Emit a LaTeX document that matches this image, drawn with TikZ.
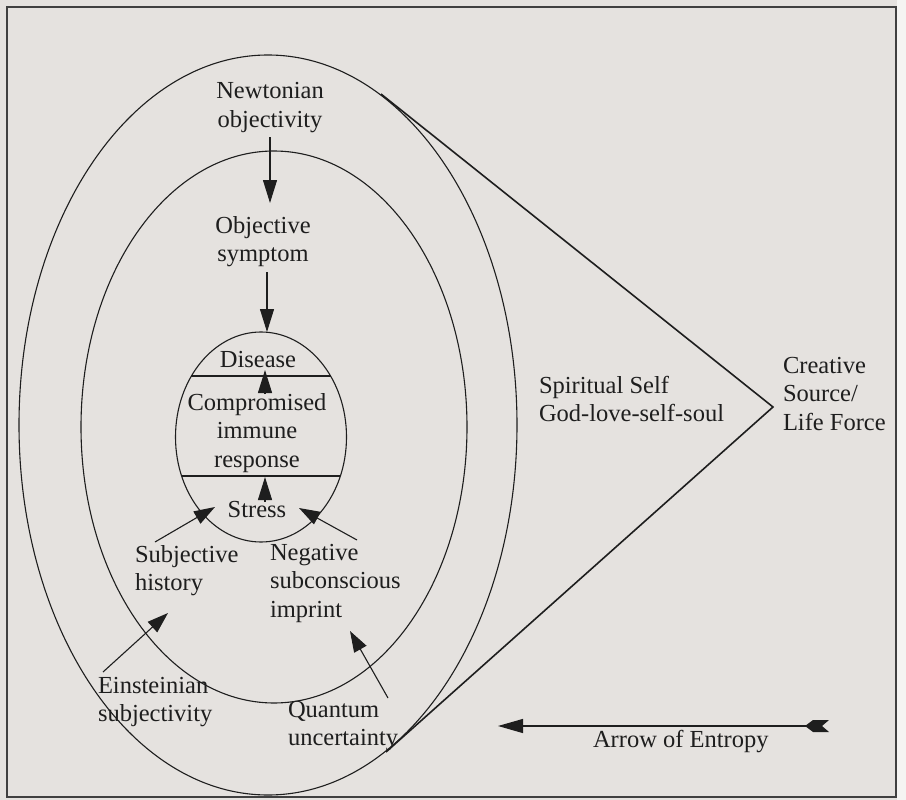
\documentclass[tikz,border=0pt]{standalone}
\usepackage{fontspec}
\setmainfont{Liberation Serif}
\usetikzlibrary{arrows.meta,shapes.geometric}
\definecolor{paper}{RGB}{229,226,223}
\definecolor{ink}{RGB}{30,30,30}
\newcommand\Ltab[1]{\begin{tabular}[t]{@{}l@{}}#1\end{tabular}}
\newcommand\Ctab[1]{\begin{tabular}[t]{@{}c@{}}#1\end{tabular}}
\tikzset{
  lbl/.style={inner sep=0pt, outer sep=0pt, text=ink, font=\fontsize{24.5}{28.7}\selectfont},
  lblL/.style={lbl, anchor=base west},
  lblC/.style={lbl, anchor=base},
  ring/.style={draw=ink, line width=1.1pt, ellipse, inner sep=0pt, fill=none},
  arr/.style={draw=ink, line width=1.1pt, -{Triangle[length=23pt,width=14pt]}},
  vline/.style={draw=ink, line width=1.6pt},
}
\begin{document}
\begin{tikzpicture}[x=1pt,y=-1pt]
\useasboundingbox (0,0) rectangle (906,800);
\fill[paper] (0,0) rectangle (906,800);
\fill[white!60!paper] (897,0) rectangle (906,800);
\draw[ink!85, line width=1.4pt] (7,7) rectangle (896,797);

% ellipses
\node[ring, minimum width=498pt, minimum height=740pt] (outer) at (268,425) {};
\node[ring, minimum width=386pt, minimum height=552pt] (inner) at (274,427) {};
\node[ring, minimum width=171pt, minimum height=210pt] (core) at (261,437) {};

% chords in the core ellipse
\coordinate (c1l) at (191,376); \coordinate (c1r) at (331,376);
\coordinate (c2l) at (182,476); \coordinate (c2r) at (340,476);
\draw[ink, line width=1.1pt] (c1l) -- (c1r);
\draw[ink, line width=1.1pt] (c2l) -- (c2r);

% V to creative source
\coordinate (vtop) at (381,94);
\coordinate (vtip) at (773,407);
\coordinate (vbot) at (386,752);
\draw[vline] (vtop) -- (vtip) -- (vbot);

% labels
\node[lblC] (newton) at (270,99) {\Ctab{Newtonian\\objectivity}};
\node[lblC] (objective) at (263,233) {\Ctab{Objective\\symptom}};
\node[lblC] (disease) at (258,367) {Disease};
\node[lblC] (immune) at (257,410) {\Ctab{Compromised\\immune\\response}};
\node[lblC] (stress) at (257,517) {Stress};
\node[lblL] (subj) at (135,562) {\Ltab{Subjective\\history}};
\node[lblL] (neg) at (270,560) {\Ltab{Negative\\subconscious\\imprint}};
\node[lblL] (einstein) at (98,693) {\Ltab{Einsteinian\\subjectivity}};
\node[lblL] (quantum) at (288,717) {\Ltab{Quantum\\uncertainty}};
\node[lblL] (spirit) at (539,393) {\Ltab{Spiritual Self\\God-love-self-soul}};
\node[lblL] (creative) at (783,373) {\Ltab{Creative\\Source/\\Life Force}};
\node[lblL] (entropy) at (593,747) {Arrow of Entropy};

% arrows
\coordinate (a1s) at (270,137); \coordinate (a1e) at (270,203);
\coordinate (a2s) at (267,272); \coordinate (a2e) at (267,332);
\coordinate (a3s) at (265,394); \coordinate (a3e) at (265,370);
\coordinate (a4s) at (265,502); \coordinate (a4e) at (265,477);
\coordinate (a5s) at (155,542); \coordinate (a5e) at (215,507);
\coordinate (a6s) at (357,540); \coordinate (a6e) at (299,508);
\coordinate (a7s) at (103,672); \coordinate (a7e) at (168,613);
\coordinate (a8s) at (388,698); \coordinate (a8e) at (350,631);
\draw[arr] (a1s) -- (a1e);
\draw[arr] (a2s) -- (a2e);
\draw[arr] (a3s) -- (a3e);
\draw[arr] (a4s) -- (a4e);
\draw[arr, -{Triangle[length=21pt,width=14pt]}] (a5s) -- (a5e);
\draw[arr, -{Triangle[length=21pt,width=14pt]}] (a6s) -- (a6e);
\draw[arr, -{Triangle[length=21pt,width=14pt]}] (a7s) -- (a7e);
\draw[arr, -{Triangle[length=21pt,width=14pt]}] (a8s) -- (a8e);

% arrow of entropy
\coordinate (ens) at (808,726); \coordinate (ene) at (498,726);
\draw[arr, -{Triangle[length=25pt,width=14pt]}] (ens) -- (ene);
\fill[ink] (805,726) -- (813,720) -- (829,720) -- (822,726) -- (829,732) -- (813,732) -- cycle;
\end{tikzpicture}
\end{document}
